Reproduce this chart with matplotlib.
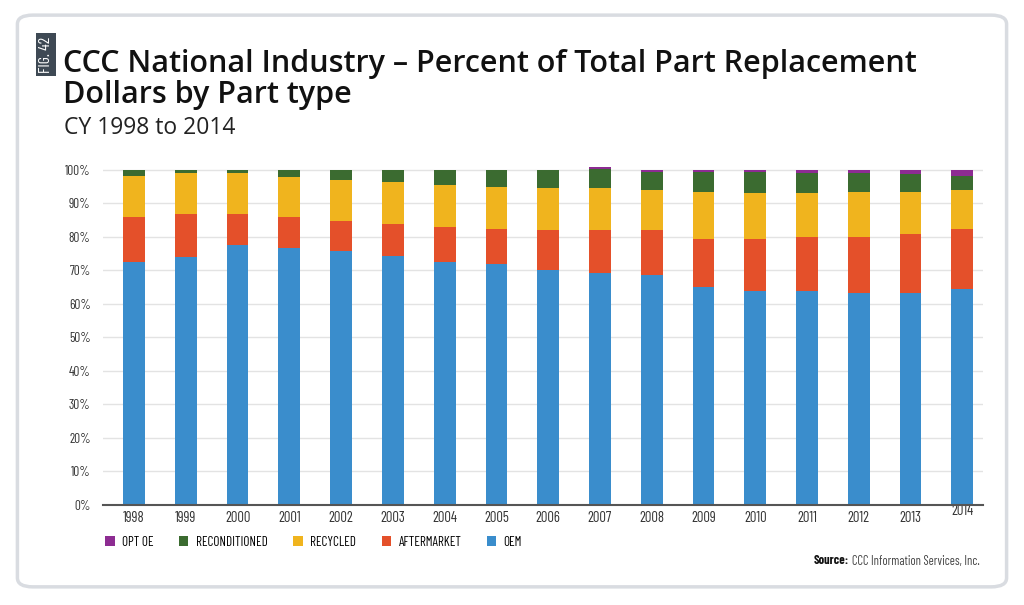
#!/usr/bin/env python3
"""CCC part replacement dollars by part type, stacked share per year."""

import matplotlib
matplotlib.use("Agg")
import matplotlib.pyplot as plt
from matplotlib.patches import FancyBboxPatch, Rectangle, Patch

years = ["1998", "1999", "2000", "2001", "2002", "2003", "2004", "2005", "2006",
         "2007", "2008", "2009", "2010", "2011", "2012", "2013", "2014"]

oem = [72.5, 73.9, 77.6, 76.8, 75.9, 74.4, 72.4, 71.8, 70.0,
       69.1, 68.6, 65.2, 63.9, 63.9, 63.4, 63.4, 64.4]
aftermarket = [13.4, 12.9, 9.2, 9.1, 9.0, 9.6, 10.6, 10.7, 12.0,
               12.9, 13.4, 14.3, 15.6, 16.1, 16.6, 17.6, 18.1]
recycled = [12.2, 12.2, 12.2, 12.0, 12.0, 12.4, 12.5, 12.5, 12.5,
            12.5, 12.0, 14.0, 13.5, 13.0, 13.5, 12.5, 11.5]
reconditioned = [1.9, 1.0, 1.0, 2.1, 3.1, 3.6, 4.5, 5.0, 5.5,
                 5.7, 5.4, 5.9, 6.4, 6.2, 5.7, 5.3, 4.3]
opt_oe = [0, 0, 0, 0, 0, 0, 0, 0, 0,
          0.6, 0.6, 0.6, 0.6, 0.8, 0.8, 1.2, 1.7]

series = [
    ("OEM", oem, "#3a8dcc"),
    ("AFTERMARKET", aftermarket, "#e4502a"),
    ("RECYCLED", recycled, "#f0b41e"),
    ("RECONDITIONED", reconditioned, "#3b6b30"),
    ("OPT OE", opt_oe, "#8d2c92"),
]

NARROW = ["Barlow Condensed", "DejaVu Sans"]
TITLE = ["Open Sans", "DejaVu Sans"]

fig = plt.figure(figsize=(10.24, 6.05), dpi=100)

# rounded card border
fig.patches.append(FancyBboxPatch((0.017, 0.03), 0.966, 0.945,
                                  boxstyle="round,pad=0,rounding_size=0.015",
                                  transform=fig.transFigure, facecolor="none",
                                  edgecolor="#d9dce1", linewidth=2.5, zorder=-10))

# FIG. 42 tag
fig.patches.append(Rectangle((36 / 1024, 1 - 76 / 605), 20 / 1024, 43 / 605,
                             transform=fig.transFigure, facecolor="#3e4954",
                             edgecolor="none", zorder=1))
fig.text(46.5 / 1024, 1 - 54.5 / 605, "FIG. 42", rotation=90, color="white",
         fontsize=11.5, family=NARROW, ha="center", va="center", zorder=2)

fig.text(63 / 1024, 1 - 64 / 605, "CCC National Industry \u2013 Percent of Total Part Replacement",
         fontsize=22, fontweight=600, family=TITLE, color="#111111", va="center")
fig.text(63 / 1024, 1 - 95 / 605, "Dollars by Part type",
         fontsize=22, fontweight=600, family=TITLE, color="#111111", va="center")
fig.text(64 / 1024, 1 - 128 / 605, "CY 1998 to 2014",
         fontsize=16.5, family=TITLE, color="#222222", va="center")

ax = fig.add_axes([103 / 1024, 1 - 505 / 605, 880 / 1024, (505 - 166.6) / 605])

x = list(range(len(years)))
bottom = [0.0] * len(years)
for name, vals, color in series:
    ax.bar(x, vals, width=0.42, bottom=bottom, color=color, label=name, zorder=3)
    bottom = [b + v for b, v in zip(bottom, vals)]

ax.set_xlim(-0.6, len(years) - 1 + 0.4)
ax.set_ylim(0, 101)
ax.set_yticks(range(0, 101, 10))
ax.set_yticklabels([f"{v}%" for v in range(0, 101, 10)], family=NARROW,
                   fontsize=9.5, color="#333333")
ax.set_xticks(x)
ax.set_xticklabels(years, family=NARROW, fontsize=10.5, color="#333333")
ax.tick_params(length=0, pad=4)
ax.tick_params(axis="y", pad=9)
# last year label sits higher in the original
ax.get_xticklabels()[-1].set_y(0.02)

ax.grid(axis="y", color="#e3e3e3", linewidth=1, zorder=0)
for side in ("top", "right", "left"):
    ax.spines[side].set_visible(False)
ax.spines["bottom"].set_color("#555555")
ax.spines["bottom"].set_linewidth(1.5)
ax.spines["bottom"].set_zorder(4)

handles = [Patch(facecolor=c, label=n) for n, _, c in reversed(series)]
fig.legend(handles=handles, loc="center left", ncol=5, frameon=False,
           bbox_to_anchor=(105 / 1024, 1 - 542 / 605), borderpad=0,
           borderaxespad=0, prop={"family": NARROW, "size": 9.5},
           handlelength=0.72, handleheight=0.72, handletextpad=0.55,
           columnspacing=1.95)

src = fig.text(980 / 1024, 1 - 561 / 605, "CCC Information Services, Inc.",
               fontsize=9, family=NARROW, color="#444444", ha="right", va="center")
fig.canvas.draw()
bb = src.get_window_extent()
fig.text(bb.x0 / 1024 - 0.003, 1 - 561 / 605, "Source:", fontsize=9,
         family=NARROW, fontweight="bold", color="#111111", ha="right", va="center")

fig.savefig("out.png", dpi=100)
print("wrote out.png")
